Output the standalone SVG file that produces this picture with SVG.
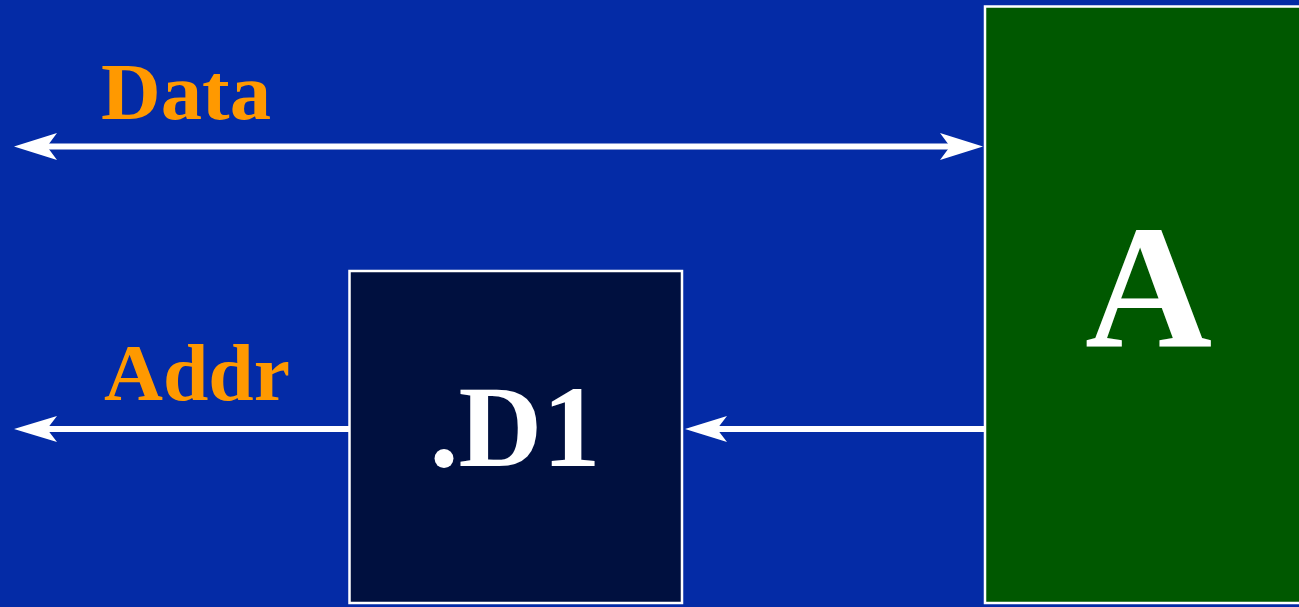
<svg xmlns="http://www.w3.org/2000/svg" width="1299" height="607" viewBox="0 0 1299 607">
<style>
.bg{fill:#042BA6}
.box{stroke:#FFFFFF;stroke-width:2.5}
.lbl{font-family:"Liberation Serif","Times New Roman",serif;font-weight:bold;fill:#FF9900;font-size:81px}
.big{font-family:"Liberation Serif","Times New Roman",serif;font-weight:bold;fill:#FFFFFF;text-anchor:middle}
.wire{stroke:#FFFFFF;stroke-width:6;fill:none}
.head{fill:#FFFFFF}
</style>
<rect class="bg" x="0" y="0" width="1299" height="607"/>
<g id="connectors">
<line class="wire" x1="45" y1="146.5" x2="952" y2="146.5"/>
<polygon class="head" points="14,146.5 57,133 47,146.5 57,160"/>
<polygon class="head" points="983,146.5 940,133 950,146.5 940,160"/>
<line class="wire" x1="45" y1="429" x2="349" y2="429"/>
<polygon class="head" points="14,429 57,416 47,429 57,442"/>
<line class="wire" x1="716" y1="429" x2="985" y2="429"/>
<polygon class="head" points="685,429 727,416 717,429 727,442"/>
</g>
<g id="label-data"><text class="lbl" x="101" y="119" textLength="170" lengthAdjust="spacingAndGlyphs">Data</text></g>
<g id="label-addr"><text class="lbl" x="104" y="400" textLength="186" lengthAdjust="spacingAndGlyphs">Addr</text></g>
<g id="node-d1">
<rect class="box" x="349.5" y="271" width="332.5" height="332" fill="#00103F"/>
<text class="big" x="515" y="466" font-size="116">.D1</text>
</g>
<g id="node-a">
<rect class="box" x="985" y="6.5" width="330" height="596.5" fill="#005800"/>
<text class="big" x="1148.5" y="346" font-size="176">A</text>
</g>
</svg>
